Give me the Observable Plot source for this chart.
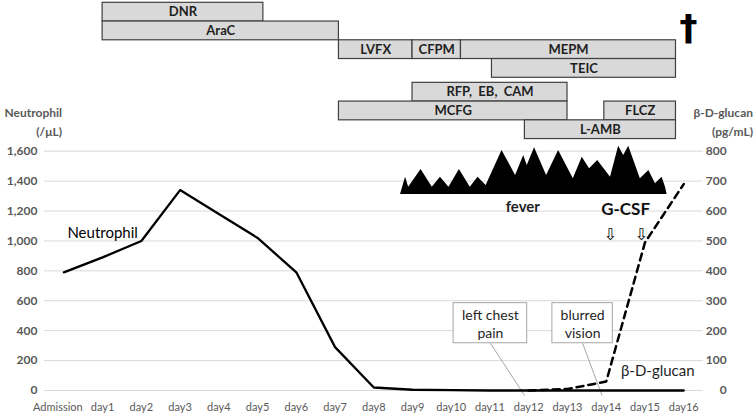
<!DOCTYPE html>
<html><head><meta charset="utf-8">
<script src="https://cdn.jsdelivr.net/npm/d3@7"></script>
<script src="https://cdn.jsdelivr.net/npm/@observablehq/plot@0.6"></script>
<style>
body{margin:0;background:#fff;}
#wrap{position:relative;width:756px;height:417px;font-family:Lato,sans-serif;}
#wrap svg{display:block;}
.ttl{position:absolute;font:bold 12px Lato,sans-serif;color:#595959;line-height:19px;text-align:right;white-space:nowrap;}
</style></head><body>
<div id="wrap"></div>
<script>
// ---- data ----
const xLabels = ["Admission","day1","day2","day3","day4","day5","day6","day7","day8","day9","day10","day11","day12","day13","day14","day15","day16"];
const neutrophil = [790, 890, 1000, 1340, 1180, 1020, 790, 290, 20, 5, 2, 0, 0, 0, 0, 0, 0];
const glucanDays = [12, 13, 14, 15, 16];
const glucan = [0, 5, 30, 495, 690];
const leftTicks = [0, 200, 400, 600, 800, 1000, 1200, 1400, 1600];
const rightTicks = [0, 100, 200, 300, 400, 500, 600, 700, 800];
const drugs = ["DNR", "AraC", "LVFX", "CFPM", "MEPM", "TEIC", "RFP,\u00a0 EB,\u00a0 CAM", "MCFG", "FLCZ", "L-AMB"];
const drugStart = [1, 1, 7.1, 9, 10.25, 11.05, 9, 7.1, 13.95, 11.9];
const drugEnd = [5.15, 7.1, 9, 10.25, 15.8, 15.8, 13, 13, 15.8, 15.8];
const drugLane = [0, 1, 2, 2, 2, 3, 4, 5, 5, 6];
const feverDay = [8.69, 8.82, 8.90, 9.22, 9.51, 9.72, 9.94, 10.21, 10.49, 10.69, 10.90, 11.31, 11.66, 11.87, 11.96, 12.15, 12.46, 12.77, 13.15, 13.38, 13.57, 13.78, 14.11, 14.32, 14.45, 14.58, 14.88, 15.10, 15.27, 15.44, 15.53, 15.57];
const feverLevel = [1310, 1426, 1359, 1478, 1359, 1426, 1359, 1478, 1359, 1426, 1371, 1605, 1438, 1571, 1504, 1623, 1438, 1605, 1415, 1560, 1482, 1538, 1426, 1633, 1571, 1633, 1415, 1471, 1382, 1426, 1359, 1310];
const gcsfDays = [14.1, 14.9];
const deathDay = [16.12];
const eventText = ["left chest\npain", "blurred\nvision"];
const eventDay = [12, 14];

// ---- derived tables ----
const neutroRows = neutrophil.map((v, i) => ({day: i, value: v}));
const glucanRows = glucanDays.map((d, i) => ({day: d, value: glucan[i]}));
const drugRows = drugs.map((name, i) => ({name, start: drugStart[i], end: drugEnd[i], lane: drugLane[i]}));
const feverRows = feverDay.map((d, i) => ({day: d, level: feverLevel[i]}));
const feverBase = d3.min(feverLevel);
const ratio = leftTicks[leftTicks.length - 1] / rightTicks[rightTicks.length - 1];
const boxLayout = [{c: -0.99, h: 0.95}, {c: -0.61, h: 0.78}];
const eventRows = eventText.map((t, i) => ({text: t, day: eventDay[i], c: eventDay[i] + boxLayout[i].c, h: boxLayout[i].h}));
const laneTop = l => l < 4 ? l : l + 0.27;

const X = {domain: [-0.5, 16.5], axis: null};
const common = {width: 756, marginLeft: 44, marginRight: 53.4};

const gantt = Plot.plot({
  ...common, height: 143, marginTop: 2.3, marginBottom: 2,
  x: X,
  y: {domain: [0, 7.4], range: [2.3, 141], axis: null},
  style: {fontFamily: "Lato, sans-serif", background: "transparent"},
  marks: [
    Plot.rect(drugRows, {x1: "start", x2: "end", y1: d => laneTop(d.lane), y2: d => laneTop(d.lane) + 1, fill: "#d9d9d9", stroke: "#404040", strokeWidth: 1.2}),
    Plot.text(drugRows, {x: d => (d.start + d.end) / 2, y: d => laneTop(d.lane) + 0.5, text: "name", fontSize: 13, fontWeight: "bold", fill: "#1f1f1f"}),
    Plot.text(deathDay, {x: d => d, y: 1.35, text: () => "\u2020", fontSize: 36, fontWeight: "bold", fontFamily: "DejaVu Sans", fill: "#000"})
  ]
});

const main = Plot.plot({
  ...common, height: 274, marginTop: 7.7, marginBottom: 27,
  x: X,
  y: {domain: [0, 1600], ticks: leftTicks, tickFormat: d3.format(","), tickSize: 0, tickPadding: 7, label: null},
  style: {fontFamily: "Lato, sans-serif", fontSize: "12px", fontWeight: "bold", color: "#595959", background: "transparent"},
  marks: [
    Plot.ruleY(leftTicks, {stroke: "#d9d9d9", strokeWidth: 1}),
    Plot.text(rightTicks, {x: 16.5, y: d => d * ratio, text: d => String(d), dx: 23.5, textAnchor: "end", fill: "#595959"}),
    Plot.text(xLabels.slice(0, 1), {x: 0, y: 0, dx: -6, dy: 16.7, text: d => d, fontSize: 11, fontWeight: "normal", fill: "#595959"}),
    Plot.text(xLabels.slice(1), {x: (d, i) => i + 1, y: 0, dy: 16.7, text: d => d, fontSize: 11, fontWeight: "normal", fill: "#595959"}),
    Plot.areaY(feverRows, {x: "day", y1: feverBase, y2: "level", fill: "#000"}),
    Plot.text(["fever"], {x: (d3.min(feverDay) + d3.max(feverDay)) / 2, y: feverBase, dx: -11, dy: 12.5, text: d => d, fontSize: 15, fontWeight: "bold", fill: "#1f1f1f"}),
    Plot.link(eventRows, {x1: "c", y1: 316, x2: d => d.day - 0.11, y2: -33, stroke: "#a6a6a6", strokeWidth: 1}),
    Plot.rect(eventRows, {x1: d => d.c - d.h, x2: d => d.c + d.h, y1: 316, y2: 584, fill: "#fff", stroke: "#a6a6a6", strokeWidth: 1}),
    Plot.text(eventRows, {x: "c", y: 450, text: "text", fontSize: 14, fontWeight: "normal", lineHeight: 1.3, fill: "#262626"}),
    Plot.line(neutroRows, {x: "day", y: "value", stroke: "#000", strokeWidth: 2.3}),
    Plot.line(glucanRows, {x: "day", y: d => d.value * ratio, stroke: "#000", strokeWidth: 2.5, strokeDasharray: "7,5"}),
    Plot.text(["Neutrophil"], {x: 1, y: 1055, text: d => d, fontSize: 15, fontWeight: "normal", fill: "#000"}),
    Plot.text(["\u03b2-D-glucan"], {x: 15.33, y: 129, text: d => d, fontSize: 15, fontWeight: "normal", fill: "#1f1f1f"}),
    Plot.text(["G-CSF"], {x: d3.mean(gcsfDays), y: 1056, dy: -23, text: d => d, fontSize: 17, fontWeight: "bold", fill: "#111"}),
    Plot.text(gcsfDays, {x: d => d, y: 1040, text: () => "\u21e9", fontSize: 16, fontWeight: "normal", fontFamily: "DejaVu Sans", fill: "#000"})
  ]
});

const wrap = document.getElementById("wrap");
wrap.appendChild(gantt);
wrap.appendChild(main);
const t1 = document.createElement("div");
t1.className = "ttl"; t1.style.left = "0px"; t1.style.width = "62px"; t1.style.top = "102.5px";
t1.innerHTML = "Neutrophil<br>(/\u03bcL)";
const t2 = document.createElement("div");
t2.className = "ttl"; t2.style.left = "653px"; t2.style.width = "100px"; t2.style.top = "102.5px";
t2.innerHTML = "\u03b2-D-glucan<br>(pg/mL)";
wrap.appendChild(t1); wrap.appendChild(t2);
</script>
</body></html>
